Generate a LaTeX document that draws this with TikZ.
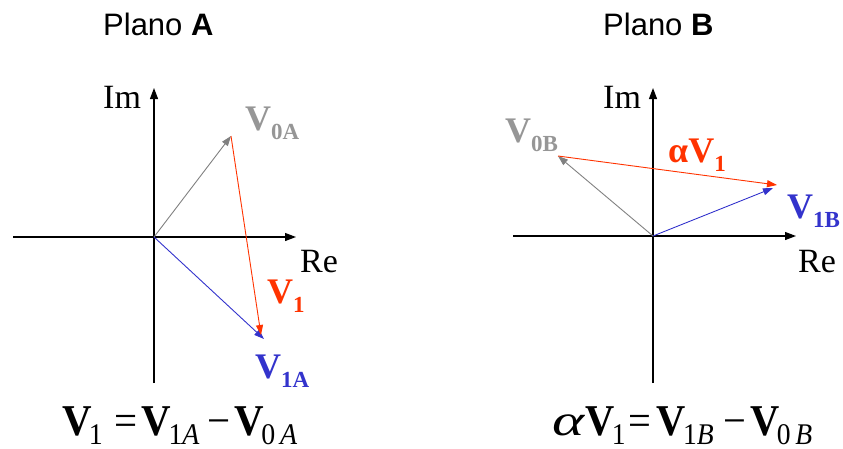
\documentclass[tikz,border=0pt]{standalone}
\usepackage{fontspec}
\usepackage{graphicx}
\setmainfont{Liberation Serif}
\newfontfamily\titlefont{Liberation Sans}
\usetikzlibrary{arrows.meta}
\definecolor{vred}{RGB}{255,51,0}
\definecolor{vblue}{RGB}{51,51,204}
\definecolor{vgray}{RGB}{128,128,128}
\definecolor{lgray}{RGB}{150,150,150}
\newcommand{\vlab}[2]{{\fontsize{36}{36}\selectfont\bfseries #1V\raisebox{-9pt}{\fontsize{23}{23}\selectfont #2}}}
\newcommand{\eqsub}[1]{\hspace{-3pt}\raisebox{-9pt}{\fontsize{30}{30}\selectfont #1}}
\begin{document}
\begin{tikzpicture}[x=1pt,y=-1pt,
  axis/.style={line width=1.2pt,-{Triangle[length=11pt,width=8pt]}},
  vec/.style={line width=0.9pt,-{Triangle[length=10pt,width=7pt]}},
  lab/.style={inner sep=0pt,anchor=base west},
  axlab/.style={inner sep=0pt,anchor=base west,font=\fontsize{34}{34}\selectfont},
  title/.style={inner sep=0pt,anchor=base west,font=\titlefont\fontsize{31}{31}\selectfont}]
\useasboundingbox (0,0) rectangle (843,448);
% titles
\node[title] (ta) at (103,35) {Plano \textbf{A}};
\node[title] (tb) at (603,35) {Plano \textbf{B}};
% ---------- Plane A ----------
\coordinate (OA) at (154,237);
\coordinate (AyB) at (154,383);
\coordinate (AyT) at (154,88);
\coordinate (AxL) at (13,237);
\coordinate (AxR) at (296,237);
\coordinate (A0) at (231,136);
\coordinate (A1r) at (261,335);
\coordinate (A1) at (264,339);
\draw[axis] (AyB) -- (AyT);
\draw[axis] (AxL) -- (AxR);
\draw[vec,vgray] (OA) -- (A0);
\draw[vec,vblue] (OA) -- (A1);
\draw[vec,vred] (A0) -- (A1r);
\node[axlab] (imA) at (103,108) {Im};
\node[axlab] (reA) at (300,272) {Re};
\node[lab,text=lgray] (v0a) at (245,130) {\vlab{}{0A}};
\node[lab,text=vred] (v1) at (267,303) {\vlab{}{1}};
\node[lab,text=vblue] (v1a) at (255,378) {\vlab{}{1A}};
% ---------- Plane B ----------
\coordinate (OB) at (653,236);
\coordinate (ByB) at (653,383);
\coordinate (ByT) at (653,88);
\coordinate (BxL) at (513,236);
\coordinate (BxR) at (796,236);
\coordinate (B0) at (558,156);
\coordinate (B1r) at (777,185);
\coordinate (B1) at (773,188);
\draw[axis] (ByB) -- (ByT);
\draw[axis] (BxL) -- (BxR);
\draw[vec,vgray] (OB) -- (B0);
\draw[vec,vblue] (OB) -- (B1);
\draw[vec,vred] (B0) -- (B1r);
\node[axlab] (imB) at (603,108) {Im};
\node[axlab] (reB) at (798,272) {Re};
\node[lab,text=lgray] (v0b) at (505,142) {\vlab{}{0B}};
\node[lab,text=vred] (av1) at (668,162) {\vlab{α}{1}};
\node[lab,text=vblue] (v1b) at (787,218) {\vlab{}{1B}};
% ---------- equations ----------
\node[lab] (eqA) at (62,435) {\resizebox{235pt}{\height}{\fontsize{44}{44}\selectfont\textbf{V}\eqsub{1}\hspace{12pt}=\hspace{5pt}\textbf{V}\eqsub{1\textit{A}}\hspace{8pt}−\hspace{5pt}\textbf{V}\eqsub{0\,\textit{A}}}};
\node[lab] (eqB) at (552,435) {\resizebox{260pt}{\height}{\fontsize{44}{44}\selectfont\resizebox{36pt}{\height}{\textit{α}}\textbf{V}\eqsub{1}\hspace{3pt}=\hspace{6pt}\textbf{V}\eqsub{1\textit{B}}\hspace{10pt}−\hspace{5pt}\textbf{V}\eqsub{0\,\textit{B}}}};
\end{tikzpicture}
\end{document}
